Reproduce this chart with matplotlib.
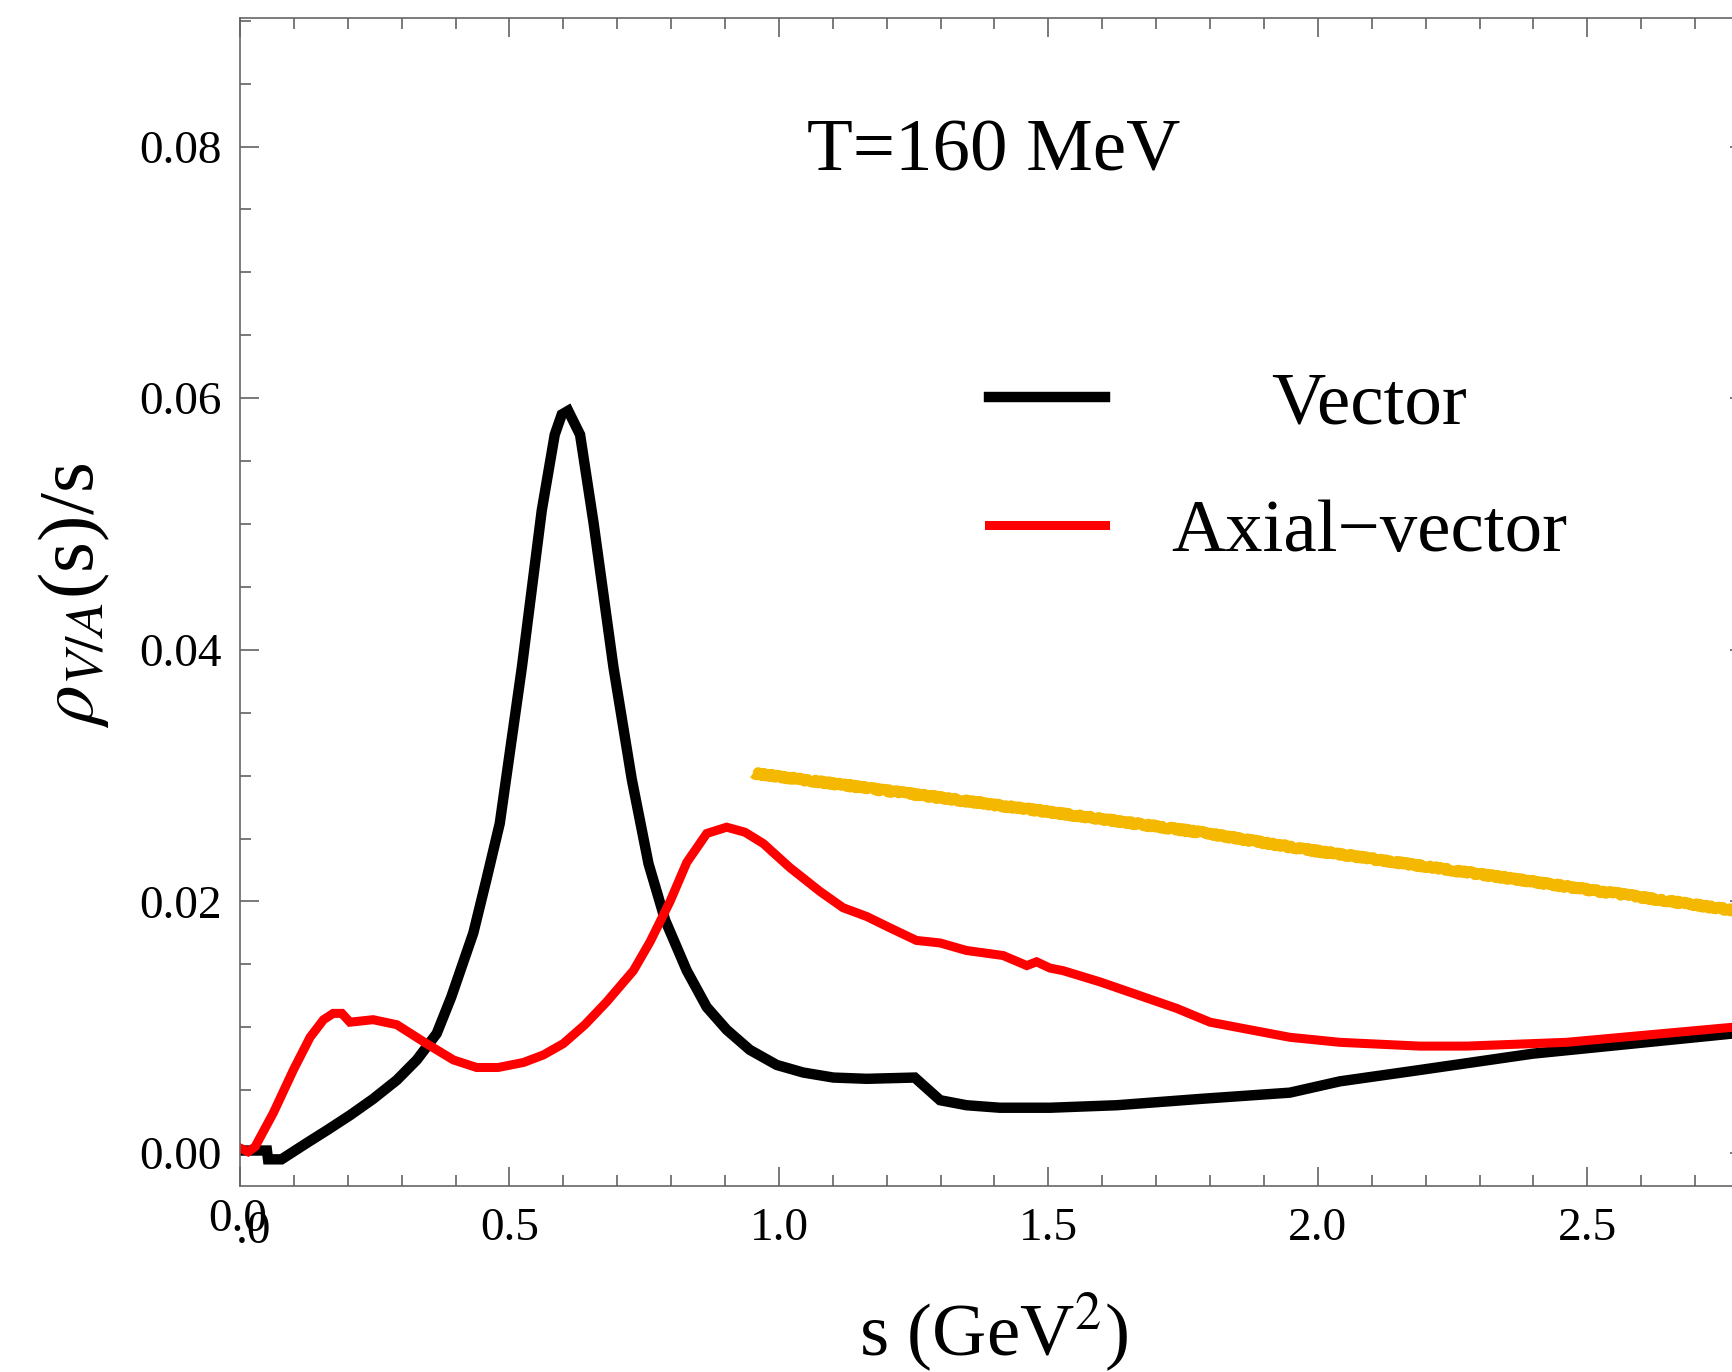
import matplotlib
matplotlib.use("Agg")
import matplotlib.pyplot as plt
from matplotlib.ticker import FixedLocator, FixedFormatter, MultipleLocator
from matplotlib.transforms import ScaledTranslation

# vector channel (black curve)
s_vector = [0.0, 0.05, 0.052, 0.077, 0.124, 0.161, 0.204, 0.247, 0.291, 0.328,
            0.365, 0.392, 0.433, 0.457, 0.482, 0.523, 0.560, 0.584, 0.597, 0.609,
            0.631, 0.656, 0.693, 0.727, 0.758, 0.789, 0.829, 0.866, 0.903, 0.946,
            0.996, 1.045, 1.101, 1.163, 1.252, 1.299, 1.348, 1.410, 1.503, 1.627,
            1.781, 1.948, 2.041, 2.189, 2.399, 2.770, 2.80]
rho_vector = [0.0002, 0.0002, -0.0005, -0.0005, 0.0008, 0.0018, 0.0030, 0.0043, 0.0058, 0.0074,
              0.0095, 0.0124, 0.0175, 0.0217, 0.0262, 0.0386, 0.0511, 0.0571, 0.0587, 0.0590,
              0.0571, 0.0501, 0.0386, 0.0297, 0.0230, 0.0185, 0.0145, 0.0116, 0.0098, 0.0082,
              0.0070, 0.0064, 0.0060, 0.0059, 0.0060, 0.0042, 0.0038, 0.0036, 0.0036, 0.0038,
              0.0043, 0.0048, 0.0057, 0.0066, 0.0079, 0.0095, 0.0096]

# axial-vector channel (red curve)
s_axial = [0.0, 0.015, 0.028, 0.062, 0.099, 0.130, 0.155, 0.173, 0.189, 0.204,
           0.247, 0.291, 0.346, 0.396, 0.439, 0.479, 0.526, 0.563, 0.600, 0.640,
           0.680, 0.730, 0.761, 0.798, 0.829, 0.866, 0.903, 0.937, 0.971, 1.020,
           1.076, 1.119, 1.163, 1.206, 1.255, 1.299, 1.348, 1.416, 1.460, 1.478,
           1.503, 1.527, 1.596, 1.738, 1.800, 1.874, 1.948, 2.041, 2.189, 2.276,
           2.461, 2.770, 2.80]
rho_axial = [0.0004, 0.0001, 0.0005, 0.0032, 0.0066, 0.0092, 0.0106, 0.0111, 0.0111, 0.0104,
             0.0106, 0.0102, 0.0087, 0.0074, 0.0068, 0.0068, 0.0072, 0.0078, 0.0087, 0.0102,
             0.0120, 0.0145, 0.0168, 0.0200, 0.0231, 0.0254, 0.0259, 0.0255, 0.0246, 0.0227,
             0.0208, 0.0195, 0.0188, 0.0179, 0.0169, 0.0167, 0.0161, 0.0157, 0.0149, 0.0152,
             0.0147, 0.0145, 0.0136, 0.0115, 0.0104, 0.0098, 0.0092, 0.0088, 0.0085, 0.0085,
             0.0088, 0.0100, 0.0101]

# yellow continuum band
s_band = [0.952, 1.503, 1.781, 1.967, 2.770, 2.80]
rho_band = [0.0302, 0.0271, 0.0255, 0.0242, 0.0193, 0.0191]

x_ticks = [0.0, 0.5, 1.0, 1.5, 2.0, 2.5]
x_tick_labels = ["0.0", "0.5", "1.0", "1.5", "2.0", "2.5"]
y_ticks = [0.00, 0.02, 0.04, 0.06, 0.08]
y_tick_labels = ["0.00", "0.02", "0.04", "0.06", "0.08"]
series_labels = ["Vector", "Axial\u2212vector"]
title_text = "T=160 MeV"

plt.rcParams["font.family"] = ["Liberation Serif", "DejaVu Serif"]
plt.rcParams["mathtext.fontset"] = "stix"

W, H = 1733, 1372
fig = plt.figure(figsize=(W / 100, H / 100), dpi=100)
# frame runs past the right edge of the picture, like the original
ax = fig.add_axes([240 / W, 186 / H, 1509 / W, 1168 / H])

band, = ax.plot(s_band, rho_band, color="#f5b800", lw=7.5, solid_capstyle="butt")
band.set_sketch_params(scale=1.5, length=3, randomness=6)  # ragged look of the band
ax.plot(s_vector, rho_vector, color="black", lw=7.5, solid_joinstyle="miter",
        label=series_labels[0])
ax.plot(s_axial, rho_axial, color="#ff0000", lw=6.5, solid_joinstyle="miter",
        label=series_labels[1])

ax.set_xlim(0, 2.8)
ax.set_ylim(-0.00262, 0.09022)

ax.xaxis.set_major_locator(FixedLocator(x_ticks))
ax.xaxis.set_major_formatter(FixedFormatter(x_tick_labels))
ax.xaxis.set_minor_locator(MultipleLocator(0.1))
ax.yaxis.set_major_locator(FixedLocator(y_ticks))
ax.yaxis.set_major_formatter(FixedFormatter(y_tick_labels))
ax.yaxis.set_minor_locator(MultipleLocator(0.005))

ax.tick_params(which="both", direction="in", top=True, right=True,
               color="#555555", width=1.1, labelcolor="black")
ax.tick_params(which="major", length=14, labelsize=34)
ax.tick_params(which="minor", length=8)
ax.tick_params(axis="x", pad=15.5)
ax.tick_params(axis="y", pad=13)

for sp in ax.spines.values():
    sp.set_color("#666666")
    sp.set_linewidth(1.2)

ax.set_xlabel("s (GeV$^2$)", fontsize=54, va="center")
ax.xaxis.set_label_coords(0.499, -0.125)
ax.set_ylabel(r"$\rho_{V/A}$(s)/s", fontsize=57, va="center")
ax.yaxis.set_label_coords(-0.110, 0.506)

ax.text(0.4997, 0.885, title_text, transform=ax.transAxes, fontsize=54,
        ha="center", va="center")

leg = ax.legend(loc="center", bbox_to_anchor=(0.688, 0.614), frameon=False,
                fontsize=54, handlelength=1.55, handletextpad=0.88,
                labelspacing=0.79, borderpad=0, borderaxespad=0)

# the "0.0" at the origin is printed twice, slightly offset
first_tick = ax.xaxis.get_major_ticks()[0]
first_tick.label1.set_transform(first_tick.label1.get_transform()
                                + ScaledTranslation(-2 / 100, 9 / 100, fig.dpi_scale_trans))
ax.annotate(".0", xy=(0, 0), xycoords=("data", "axes fraction"),
            xytext=(-3, -41), textcoords="offset points",
            fontsize=34, ha="left", va="baseline")

# centre the shorter legend entry over the longer one
fig.canvas.draw()
t0, t1 = leg.get_texts()
w0 = t0.get_window_extent().width
w1 = t1.get_window_extent().width
t0.set_x((w1 - w0) / 2)

fig.savefig("out.png", dpi=100)
